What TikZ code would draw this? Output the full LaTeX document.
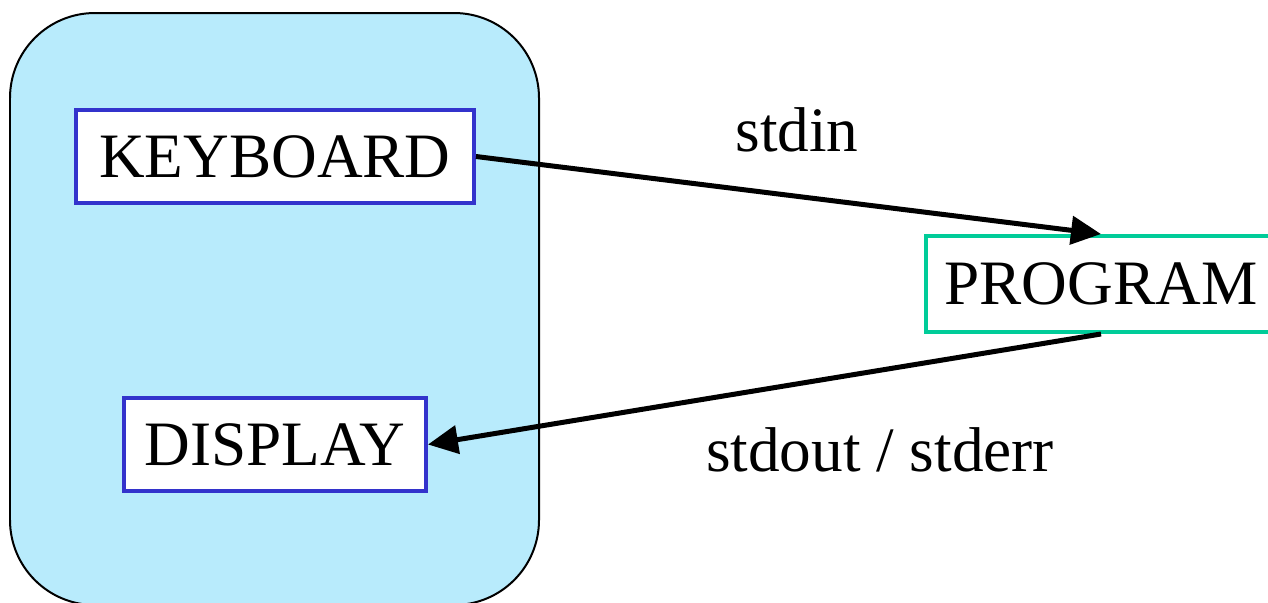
\documentclass[tikz,border=0pt]{standalone}
\usepackage{fontspec}
\setmainfont{Liberation Serif}
\usetikzlibrary{arrows.meta}
\definecolor{panelblue}{RGB}{184,235,252}
\definecolor{devblue}{RGB}{51,51,204}
\definecolor{proggreen}{RGB}{0,204,153}
\tikzset{
  device/.style={draw=devblue, fill=white, line width=0.08cm, inner sep=0pt,
    minimum height=1.86cm, font=\fontsize{36}{40}\selectfont},
  program/.style={draw=proggreen, fill=white, line width=0.08cm, inner sep=0pt,
    minimum width=7cm, minimum height=1.92cm, font=\fontsize{36}{40}\selectfont},
  stream/.style={line width=0.1cm, -{Triangle[length=0.6cm,width=0.56cm]}},
  label/.style={font=\fontsize{36}{40}\selectfont, inner sep=0pt}
}
\begin{document}
\begin{tikzpicture}[x=0.02cm, y=-0.02cm]
  \useasboundingbox (0,0) rectangle (1268,602);
  \clip (0,0) rectangle (1268,602);
  % terminal panel
  \draw[fill=panelblue, line width=0.04cm, rounded corners=1.7cm] (10,13) rectangle (539,605);
  % devices
  \node[device, minimum width=7.96cm] (kbd) at (275,156.5) {KEYBOARD};
  \node[device, minimum width=6.04cm] (disp) at (275,444.5) {DISPLAY};
  \node[program] (prog) at (1101,284) {PROGRAM};
  % streams
  \draw[stream] (kbd.east) -- (prog.north);
  \draw[stream] (prog.south) -- (disp.east);
  \node[label] (in) at (797,130) {stdin};
  \node[label] (out) at (880,450) {stdout / stderr};
\end{tikzpicture}
\end{document}
